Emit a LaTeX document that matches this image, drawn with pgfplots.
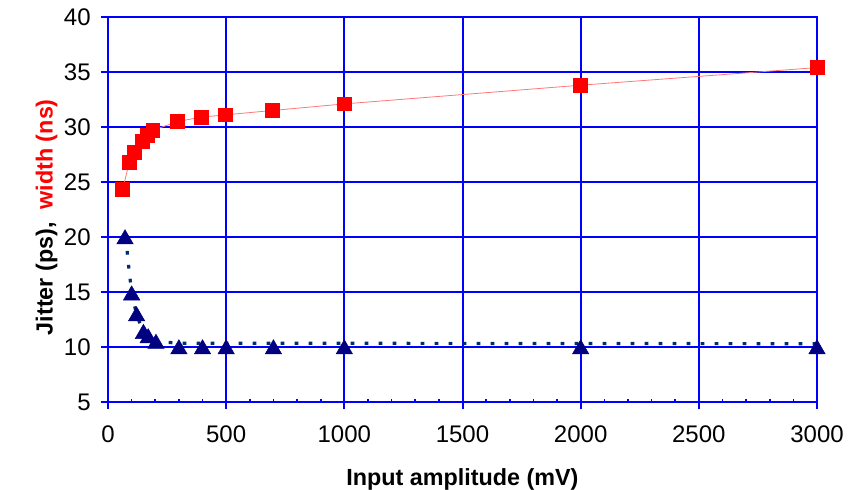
\documentclass[border=0pt]{standalone}
\usepackage{pgfplots}
\pgfplotsset{compat=1.18}
\usepackage{fontspec}
\setmainfont{Liberation Sans}
\definecolor{gridblue}{RGB}{0,0,255}
\definecolor{navy}{RGB}{0,0,128}
\definecolor{dotblue}{RGB}{0,45,110}
\definecolor{sqred}{RGB}{255,0,0}
\definecolor{linered}{RGB}{255,120,120}
\begin{document}
\begin{tikzpicture}
\begin{axis}[name=ax,
  scale only axis, width=531.75pt, height=288.75pt,
  xmin=0, xmax=3000, ymin=5, ymax=40,
  xtick={0,500,...,3000}, ytick={5,10,...,40},
  minor xtick={100,200,...,2900},
  grid=major,
  major grid style={gridblue, line width=1.5pt},
  axis line style={gridblue, line width=1.5pt},
  tick style={gridblue, line width=1.5pt},
  major tick length=5.5pt, minor tick length=2pt,
  minor tick style={yshift=2pt, line width=1.2pt},
  tick align=outside,
  xtick pos=bottom, ytick pos=left,
  tick label style={font=\fontsize{18}{20}\selectfont},
  xticklabel style={yshift=-8.5pt},
  yticklabel style={xshift=-4pt},
  /pgf/number format/assume math mode=true,
  /pgf/number format/1000 sep={},
  xlabel={\textbf{Input amplitude (mV)}},
  ylabel={\textbf{Jitter (ps),\ \ \textcolor{sqred}{width (ns)}}},
  label style={font=\fontsize{17.5}{19}\selectfont},
  xlabel style={yshift=-13pt},
  ylabel style={at={(ticklabel cs:0.48)}, yshift=-2pt},
  clip=false,
]
\addplot[color=linered, line width=0.6pt, mark=square*, mark size=5.2pt,
  mark options={fill=sqred, draw=sqred, solid}] coordinates {
  (62,24.3) (90,26.8) (110,27.7) (144,28.7) (165,29.2) (190,29.7)
  (295,30.5) (395,30.9) (495,31.1) (695,31.5) (1000,32.1) (2000,33.8) (3000,35.4)
};
\addplot[color=dotblue, line width=2.4pt, dash pattern=on 2.8pt off 7.7pt, forget plot] coordinates {
  (75,20) (90,16.8) (100,15) (120,13) (150,11.3) (200,10.5) (300,10.35) (3000,10.3)
};
\addplot[only marks, mark=triangle*, mark size=7.1pt,
  mark options={fill=navy, draw=navy}] coordinates {
  (72,19.8) (100,14.7) (121,12.8) (150,11.2) (170,10.8) (203,10.3)
  (300,9.8) (400,9.8) (500,9.8) (700,9.8) (1000,9.8) (2000,9.8) (3000,9.8)
};
\end{axis}
\pgfresetboundingbox
\path[use as bounding box] ([xshift=-81pt,yshift=-65.25pt]ax.south west) rectangle ([xshift=23.25pt,yshift=12.75pt]ax.north east);
\end{tikzpicture}
\end{document}
